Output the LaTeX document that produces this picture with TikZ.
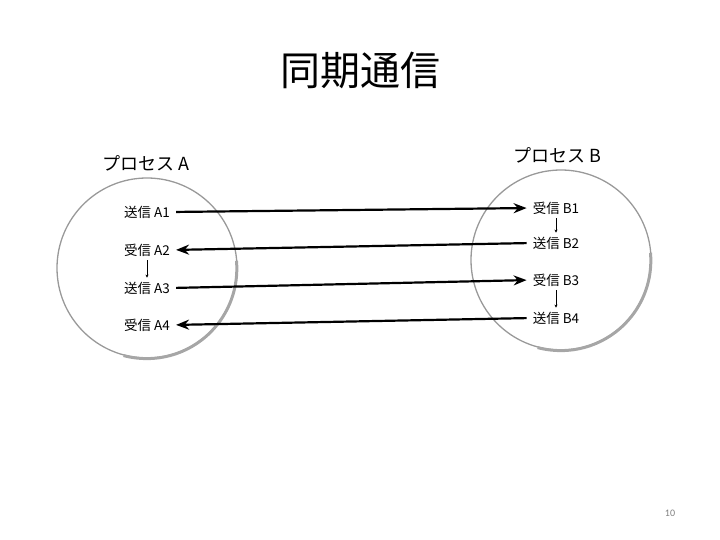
\documentclass[tikz,border=0pt]{standalone}
\usepackage{fontspec}
\setmainfont{Noto Sans CJK JP}
\newfontfamily\pagefont{Carlito}
\usetikzlibrary{arrows.meta}

\begin{document}
\begin{tikzpicture}[
  x=1pt, y=-1pt,
  proc/.style={circle, draw=gray!80, line width=1.3pt, minimum size=180pt},
  shade/.style={draw=gray!70, line width=3pt},
  pname/.style={font=\fontsize{18}{20}\selectfont},
  lbl/.style={font=\fontsize{13.5}{15}\selectfont, inner sep=1pt},
  msg/.style={line width=2.2pt, shorten >=5pt, shorten <=5pt,
    -{Stealth[length=13pt,width=10pt]}},
  seq/.style={thin, shorten >=3pt, shorten <=3pt, -{Stealth[length=3pt,width=3pt]}}
]
\useasboundingbox (0,0) rectangle (720,540);
\node[font=\fontsize{40}{44}\selectfont] (title) at (360,70) {同期通信};

% processes
\node[proc] (pa) at (147,268) {};
\node[proc] (pb) at (561,260) {};
\begin{scope}[y=1pt]
  \draw[shade] (pa.-105) arc[start angle=-105, end angle=5, radius=90pt];
  \draw[shade] (pb.-105) arc[start angle=-105, end angle=5, radius=90pt];
\end{scope}
\node[pname] (na) at (146,163) {プロセス A};
\node[pname] (nb) at (557,155) {プロセス B};

% steps of A
\node[lbl] (a1) at (147,212) {送信 A1};
\node[lbl] (a2) at (147,250) {受信 A2};
\node[lbl] (a3) at (147,288) {送信 A3};
\node[lbl] (a4) at (147,325) {受信 A4};
% steps of B
\node[lbl] (b1) at (556,208) {受信 B1};
\node[lbl] (b2) at (556,243) {送信 B2};
\node[lbl] (b3) at (556,280) {受信 B3};
\node[lbl] (b4) at (556,318) {送信 B4};

\draw[seq] (a2) -- (a3);
\draw[seq] (b1) -- (b2);
\draw[seq] (b3) -- (b4);

% messages
\draw[msg] (a1.east) -- (b1.west);
\draw[msg] (b2.west) -- (a2.east);
\draw[msg] (a3.east) -- (b3.west);
\draw[msg] (b4.west) -- (a4.east);

\node[font=\pagefont\fontsize{10}{12}\selectfont, text=gray] (page) at (670,513) {10};
\end{tikzpicture}
\end{document}
